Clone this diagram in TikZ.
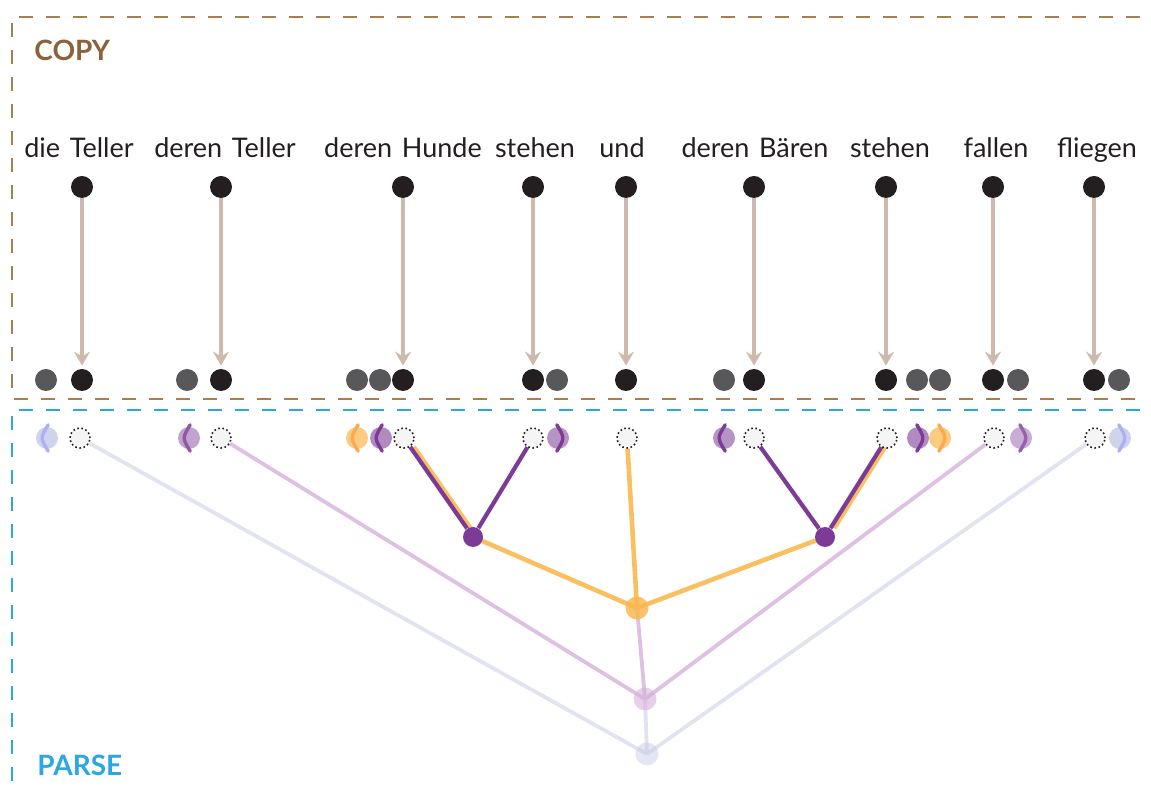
\documentclass[tikz,border=0pt]{standalone}
\usepackage{fontspec}
\setmainfont{Lato}
\usepackage{xcolor}
\usepackage{tikz}
\usetikzlibrary{positioning, arrows.meta, backgrounds}

\definecolor{copybrown}{RGB}{170,126,82}
\definecolor{copytext}{RGB}{140,98,58}
\definecolor{parseblue}{RGB}{43,168,224}
\definecolor{wordblack}{RGB}{35,31,32}
\definecolor{wordgrey}{RGB}{88,88,90}
\definecolor{arrowtan}{RGB}{205,186,170}
\definecolor{treepurple}{RGB}{123,59,150}
\definecolor{treeorange}{RGB}{249,184,80}
\definecolor{treelilac}{RGB}{214,176,220}
\definecolor{treeblue}{RGB}{200,205,232}

\newcommand{\gap}{\hspace{0.36em}}

\tikzset{
  word/.style={font=\fontsize{13.5}{16}\selectfont, text=wordblack, inner sep=0pt, anchor=base},
  dot/.style={circle, fill=wordblack, minimum size=11pt, inner sep=0pt},
  greydot/.style={dot, fill=wordgrey},
  slot/.style={circle, draw=wordblack, fill=gray!8, line width=0.8pt, dash pattern=on 0.8pt off 1.3pt, minimum size=10pt, inner sep=0pt},
  copyarrow/.style={draw=arrowtan, line width=2pt, shorten >=1.5pt, -{Stealth[length=7pt,width=8pt,inset=2.5pt]}},
  moonbody/.style={circle, minimum size=11pt, inner sep=0pt, fill opacity=0.85},
  treenode/.style={circle, minimum size=10pt, inner sep=0pt},
  purpleedge/.style={treepurple, line width=2.1pt},
  orangeedge/.style={treeorange!90, line width=2.3pt},
  lilacedge/.style={treelilac!80, line width=1.9pt},
  blueedge/.style={treeblue!55, line width=1.9pt},
  boxline/.style={line width=1pt, dash pattern=on 7pt off 6.5pt}
}

% name, x, y, fill, arc colour, side (-1 = left, 1 = right)
\newcommand{\halfmoon}[6]{%
  \node[moonbody, fill=#4] (#1) at (#2,#3) {};
  \draw[#5, line width=1.7pt, line cap=round] ([xshift={-(#6)*0.6pt}, yshift=6.6pt]#1.center)
    .. controls ([xshift={(#6)*3.4pt}]#1.center) .. ([xshift={-(#6)*0.6pt}, yshift=-6.6pt]#1.center);
}

\begin{document}
\begin{tikzpicture}[x=0.5pt, y=-0.5pt]
  \useasboundingbox (0,0) rectangle (1151,790);

  % the two regions
  \draw[boxline, copybrown] (1140,17) -- (12,17) -- (12,399) -- (1140,399);
  \draw[boxline, parseblue] (1140,410) -- (12,410) -- (12,790);
  \node[font=\bfseries\fontsize{14}{16}\selectfont, text=copytext, anchor=west, inner sep=0pt] (copylabel) at (34,50) {COPY};
  \node[font=\bfseries\fontsize{14}{16}\selectfont, text=parseblue, anchor=west, inner sep=0pt] (parselabel) at (37,765) {PARSE};

  % words
  \node[word] (w1) at (79,158) {die\gap Teller};
  \node[word] (w2) at (225,158) {deren\gap Teller};
  \node[word] (w3) at (403,158) {deren\gap Hunde};
  \node[word] (w4) at (535,158) {stehen};
  \node[word] (w5) at (622,158) {und};
  \node[word] (w6) at (755,158) {deren\gap Bären};
  \node[word] (w7) at (890,158) {stehen};
  \node[word] (w8) at (996,158) {fallen};
  \node[word] (w9) at (1097,158) {fliegen};

  % source tokens
  \node[dot] (t1) at (82,187) {};
  \node[dot] (t2) at (221,187) {};
  \node[dot] (t3) at (403,187) {};
  \node[dot] (t4) at (533,187) {};
  \node[dot] (t5) at (626,187) {};
  \node[dot] (t6) at (754,187) {};
  \node[dot] (t7) at (886,187) {};
  \node[dot] (t8) at (993,187) {};
  \node[dot] (t9) at (1094,187) {};

  % copied tokens and their neighbours
  \node[greydot] (g1) at (46,380) {};
  \node[greydot] (g2) at (187,380) {};
  \node[greydot] (g3a) at (357,380) {};
  \node[greydot] (g3b) at (380,380) {};
  \node[greydot] (g4) at (557,380) {};
  \node[greydot] (g6) at (724,380) {};
  \node[greydot] (g7a) at (917,380) {};
  \node[greydot] (g7b) at (940,380) {};
  \node[greydot] (g8) at (1018,380) {};
  \node[greydot] (g9) at (1119,380) {};

  \node[dot] (b1) at (82,380) {};
  \node[dot] (b2) at (221,380) {};
  \node[dot] (b3) at (403,380) {};
  \node[dot] (b4) at (533,380) {};
  \node[dot] (b5) at (626,380) {};
  \node[dot] (b6) at (754,380) {};
  \node[dot] (b7) at (886,380) {};
  \node[dot] (b8) at (993,380) {};
  \node[dot] (b9) at (1094,380) {};

  \draw[copyarrow] (t1) -- (b1);
  \draw[copyarrow] (t2) -- (b2);
  \draw[copyarrow] (t3) -- (b3);
  \draw[copyarrow] (t4) -- (b4);
  \draw[copyarrow] (t5) -- (b5);
  \draw[copyarrow] (t6) -- (b6);
  \draw[copyarrow] (t7) -- (b7);
  \draw[copyarrow] (t8) -- (b8);
  \draw[copyarrow] (t9) -- (b9);

  % parser slots
  \node[slot] (s1) at (80,438) {};
  \node[slot] (s2) at (221,438) {};
  \node[slot] (s3) at (404,438) {};
  \node[slot] (s4) at (533,438) {};
  \node[slot] (s5) at (627,438) {};
  \node[slot] (s6) at (754,438) {};
  \node[slot] (s7) at (887,438) {};
  \node[slot] (s8) at (994,438) {};
  \node[slot] (s9) at (1095,438) {};

  \halfmoon{m1}{47}{438}{treeblue}{treeblue!60!blue!60!white}{-1}
  \halfmoon{m2}{189}{438}{treepurple!55}{treepurple!85}{-1}
  \halfmoon{m3a}{357}{438}{treeorange!85}{treeorange!90!red!95!white}{-1}
  \halfmoon{m3b}{381}{438}{treepurple!70}{treepurple}{-1}
  \halfmoon{m4}{558}{438}{treepurple!65}{treepurple}{1}
  \halfmoon{m6}{724}{438}{treepurple!65}{treepurple}{-1}
  \halfmoon{m7a}{918}{438}{treepurple!70}{treepurple}{1}
  \halfmoon{m7b}{940}{438}{treeorange!85}{treeorange!90!red!95!white}{1}
  \halfmoon{m8}{1021}{438}{treepurple!50}{treepurple!80}{1}
  \halfmoon{m9}{1120}{438}{treeblue}{treeblue!60!blue!60!white}{1}

  % tree
  \node[treenode, fill=treepurple] (hunde) at (473,537) {};
  \node[treenode, fill=treepurple] (baeren) at (825,537) {};
  \node[treenode, fill=treeorange, fill opacity=0.85, minimum size=11.5pt] (und) at (637,608) {};
  \node[treenode, fill=treelilac, fill opacity=0.6, minimum size=11.5pt] (inner) at (645,699) {};
  \node[treenode, fill=treeblue, fill opacity=0.5, minimum size=11.5pt] (outer) at (647,754) {};

  \begin{scope}[on background layer]
    \draw[blueedge] (s1) -- (outer.center);
    \draw[blueedge] (s9) -- (outer.center);
    \draw[blueedge] (inner.center) -- (outer.center);
    \draw[lilacedge] (s2) -- (inner.center);
    \draw[lilacedge] (s8) -- (inner.center);
    \draw[lilacedge] (und.center) -- (inner.center);
    \draw[orangeedge] (s5) -- (und.center);
    \draw[orangeedge] (hunde.center) -- (und.center);
    \draw[orangeedge] (baeren.center) -- (und.center);
    \draw[orangeedge, transform canvas={xshift=1.8pt}] (s3) -- (hunde);
    \draw[orangeedge, transform canvas={xshift=1.8pt}] (s7) -- (baeren);
    \draw[purpleedge] (s3) -- (hunde);
    \draw[purpleedge] (s4) -- (hunde);
    \draw[purpleedge] (s6) -- (baeren);
    \draw[purpleedge] (s7) -- (baeren);
  \end{scope}
\end{tikzpicture}
\end{document}
